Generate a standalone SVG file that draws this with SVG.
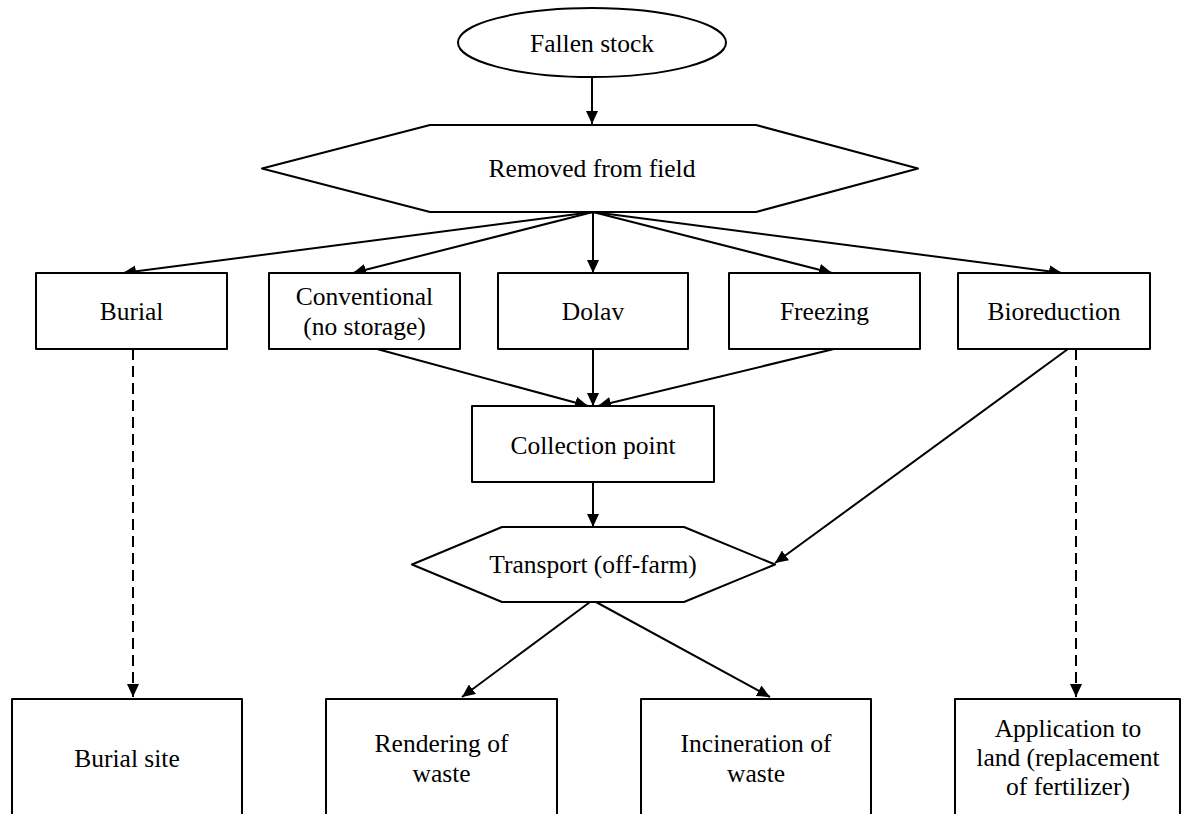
<svg xmlns="http://www.w3.org/2000/svg" width="1182" height="814" viewBox="0 0 1182 814">
<defs>
<marker id="arr" markerUnits="userSpaceOnUse" markerWidth="14" markerHeight="12" refX="13" refY="6" orient="auto">
<path d="M0,0 L13,6 L0,12 z" fill="#000"/>
</marker>
<style>
.shape{fill:#fff;stroke:#000;stroke-width:2;stroke-linejoin:round}
.t{font-family:"Liberation Serif","Times New Roman",serif;font-size:25.5px;fill:#000;text-anchor:middle}
.c{fill:none;stroke:#000;stroke-width:2;marker-end:url(#arr)}
.d{stroke-dasharray:11 6}
</style>
</defs>
<rect width="1182" height="814" fill="#fff"/>
<g id="connectors">
<line class="c" x1="592" y1="77" x2="592" y2="124"/>
<line class="c" x1="593" y1="212" x2="123" y2="273"/>
<line class="c" x1="593" y1="212" x2="353" y2="273"/>
<line class="c" x1="593" y1="212" x2="593" y2="273"/>
<line class="c" x1="593" y1="212" x2="832" y2="273"/>
<line class="c" x1="593" y1="212" x2="1062" y2="273"/>
<line class="c" x1="377" y1="349" x2="588" y2="406"/>
<line class="c" x1="593" y1="349" x2="593" y2="406"/>
<line class="c" x1="834" y1="349" x2="598" y2="406"/>
<line class="c" x1="593" y1="482" x2="593" y2="527"/>
<line class="c" x1="1068" y1="349" x2="775" y2="563"/>
<line class="c" x1="590" y1="602" x2="462" y2="697"/>
<line class="c" x1="596" y1="602" x2="770" y2="697"/>
<line class="c d" x1="133" y1="349" x2="133" y2="697"/>
<line class="c d" x1="1076" y1="349" x2="1076" y2="697"/>
</g>
<g id="fallen-stock">
<ellipse class="shape" cx="592" cy="42.5" rx="134" ry="34.5"/>
<text class="t" x="592" y="52">Fallen stock</text>
</g>
<g id="removed-from-field">
<polygon class="shape" points="262,168.5 430,125 756,125 918,168.5 756,212 430,212"/>
<text class="t" x="592" y="177">Removed from field</text>
</g>
<g id="burial">
<rect class="shape" x="36" y="273" width="191" height="76"/>
<text class="t" x="131.5" y="320">Burial</text>
</g>
<g id="conventional">
<rect class="shape" x="269" y="273" width="191" height="76"/>
<text class="t" x="364.5" y="305">Conventional</text>
<text class="t" x="364.5" y="335">(no storage)</text>
</g>
<g id="dolav">
<rect class="shape" x="498" y="273" width="190" height="76"/>
<text class="t" x="593" y="320">Dolav</text>
</g>
<g id="freezing">
<rect class="shape" x="729" y="273" width="191" height="76"/>
<text class="t" x="824.5" y="320">Freezing</text>
</g>
<g id="bioreduction">
<rect class="shape" x="958" y="273" width="192" height="76"/>
<text class="t" x="1054" y="320">Bioreduction</text>
</g>
<g id="collection-point">
<rect class="shape" x="472" y="406" width="242" height="76"/>
<text class="t" x="593" y="454">Collection point</text>
</g>
<g id="transport">
<polygon class="shape" points="412,564.5 502,527 684,527 775,564.5 684,602 502,602"/>
<text class="t" x="593" y="573">Transport (off-farm)</text>
</g>
<g id="burial-site">
<rect class="shape" x="12" y="699" width="230" height="130"/>
<text class="t" x="127" y="767">Burial site</text>
</g>
<g id="rendering">
<rect class="shape" x="326" y="699" width="231" height="130"/>
<text class="t" x="441.5" y="752">Rendering of</text>
<text class="t" x="441.5" y="782">waste</text>
</g>
<g id="incineration">
<rect class="shape" x="641" y="699" width="230" height="130"/>
<text class="t" x="756" y="752">Incineration of</text>
<text class="t" x="756" y="782">waste</text>
</g>
<g id="application">
<rect class="shape" x="955" y="699" width="225" height="130"/>
<text class="t" x="1068" y="737">Application to</text>
<text class="t" x="1068" y="766">land (replacement</text>
<text class="t" x="1068" y="795">of fertilizer)</text>
</g>
</svg>
